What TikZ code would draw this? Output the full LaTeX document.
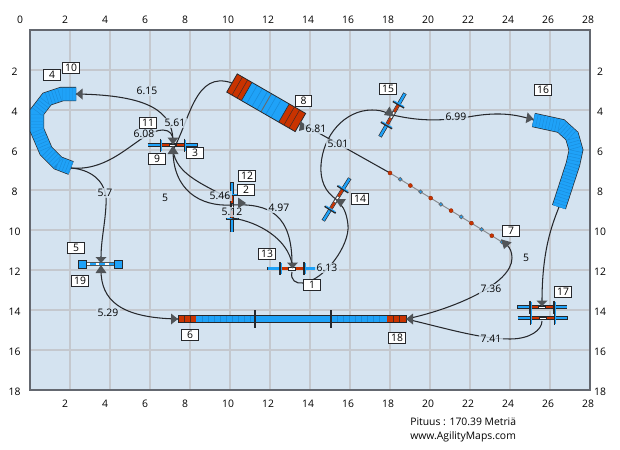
\documentclass[tikz,border=0pt]{standalone}
\usepackage{fontspec}
\setmainfont{Open Sans}
\definecolor{panel}{HTML}{D4E3F0}
\definecolor{gridc}{HTML}{C4C8CE}
\definecolor{framec}{HTML}{646870}
\definecolor{bluec}{HTML}{1FA2F8}
\definecolor{ribc}{HTML}{1A8CDA}
\definecolor{redc}{HTML}{C93300}
\definecolor{darkc}{HTML}{26282C}
\definecolor{headc}{HTML}{505458}
\tikzset{
  gridline/.style={gridc,line width=0.85pt},
  ruler/.style={font=\fontsize{5.9}{7}\selectfont,text=black,inner sep=0pt},
  numbox/.style={draw=darkc,fill=white,line width=0.55pt,minimum width=9.2pt,minimum height=5.9pt,inner sep=0pt,font=\fontsize{5.9}{7}\selectfont},
  lenlabel/.style={fill=panel,fill opacity=0.8,text opacity=1,inner xsep=1pt,inner ysep=0.6pt,font=\fontsize{5.9}{7}\selectfont},
  course/.style={darkc,line width=0.6pt},
  headtip/.style={fill=headc},
  tunnelbody/.style={line width=8.2pt,darkc,miter limit=10},
  tunnelfill/.style={line width=7.4pt,bluec,miter limit=10},
  tunnelrib/.style={line width=7.4pt,ribc,dash pattern=on 0.25pt off 1.6pt},
  barout/.style={line width=2.1pt,darkc},
  barblue/.style={line width=1.35pt,bluec},
  barred/.style={line width=1.35pt,redc},
  tickline/.style={line width=0.95pt,darkc},
  tickblue/.style={line width=0.55pt,bluec},
  polered/.style={circle,fill=redc,draw=redc!70!black,line width=0.2pt,minimum size=2.3pt,inner sep=0pt},
  poleblue/.style={circle,fill=bluec,draw=darkc!70,line width=0.4pt,minimum size=2.2pt,inner sep=0pt},
}
% jump: name, x, y, visual angle
\newcommand{\jumpbar}[4]{%
  \coordinate (#1) at (#2,#3);
  \begin{scope}[shift={(#2,#3)},rotate=#4]
    \draw[barout] (-25,0) -- (25,0);
    \draw[barblue] (-24.5,0) -- (24.5,0);
    \draw[barred] (-12,0) -- (12,0);
    \fill[white,draw=darkc,line width=0.2pt] (-3.5,-1.2) rectangle (3.5,1.2);
    \draw[tickline] (-12,-6.5) -- (-12,6.5);
    \draw[tickline] (12,-6.5) -- (12,6.5);
    \draw[tickblue] (-11,-5.5) -- (-11,5.5);
    \draw[tickblue] (13,-5.5) -- (13,5.5);
  \end{scope}}
% arrow head: tip x, y, visual direction, length
\newcommand{\headat}[4]{%
  \begin{scope}[shift={(#1,#2)},rotate=#3]
    \fill[headtip] (0,0) -- (-#4,5.5) -- (-#4,-5.5) -- cycle;
  \end{scope}}
\begin{document}
\begin{tikzpicture}[x=0.02cm,y=-0.02cm]
\useasboundingbox (0,0) rectangle (620,450);
\fill[white] (0,0) rectangle (620,450);
\fill[panel] (30,30) rectangle (590,390);
\foreach \k in {1,...,13} {\draw[gridline] ({30+40*\k},30) -- ({30+40*\k},390);}
\foreach \k in {1,...,8} {\draw[gridline] (30,{30+40*\k}) -- (590,{30+40*\k});}
\draw[framec,line width=1.1pt] (30,30) rectangle (590,390);
% rulers
\node[ruler] (tzero) at (20,20) {0};
\foreach \v/\px in {2/65,4/105,6/145,8/185,10/228,12/268,14/308,16/348,18/388,20/428,22/468,24/508,26/548,28/588} {
  \node[ruler] (top\v) at (\px,20) {\v};
  \node[ruler] (bot\v) at (\px,404) {\v};
}
\foreach \v/\py in {2/72,4/112,6/152,8/192,10/232,12/272,14/312,16/352,18/392} {
  \node[ruler] (lft\v) at (14.5,\py) {\v};
  \node[ruler] (rgt\v) at (600,\py) {\v};
}
% tunnel 4/10
\coordinate (tunA) at (76,94);
\coordinate (tunAend) at (71,168);
\foreach \s in {tunnelbody,tunnelfill,tunnelrib}
  \draw[\s] (tunA) -- (62,94) -- (47,99) -- (37,112) -- (37,130) -- (46,151) -- (58,163) -- (tunAend);
% tunnel 16
\coordinate (tunB) at (533.5,120);
\coordinate (tunBend) at (559,207);
\foreach \s in {tunnelbody,tunnelfill,tunnelrib}
  \draw[\s] (tunB) -- (561,126) -- (572,136) -- (576,150) -- (573,164) -- (tunBend);
% A-frame 8
\coordinate (frameA) at (232,83);
\coordinate (frameB) at (301,123);
\begin{scope}[shift={(232,83)},rotate=-30]
  \fill[redc] (0,-10.5) rectangle (17,10.5);
  \fill[redc] (60,-10.5) rectangle (79,10.5);
  \fill[bluec] (17,-10.5) rectangle (60,10.5);
  \foreach \q in {6,12,66,72} {\draw[darkc!80!redc,line width=0.3pt] (\q,-10.5) -- (\q,10.5);}
  \foreach \q in {23,29,35,45,51} {\draw[ribc,line width=0.35pt] (\q,-10.5) -- (\q,10.5);}
  \draw[darkc!70,line width=0.5pt] (39.5,-10.5) -- (39.5,10.5);
  \draw[darkc,line width=0.45pt] (0,-10.5) rectangle (79,10.5);
  \draw[darkc,line width=0.35pt] (17,-10.5) -- (17,10.5) (60,-10.5) -- (60,10.5);
\end{scope}
% dog walk 6/18
\coordinate (walkA) at (178,319);
\coordinate (walkB) at (406,319);
\fill[bluec] (196,315.4) rectangle (387,322.6);
\fill[redc] (178,315.4) rectangle (196,322.6);
\fill[redc] (387,315.4) rectangle (406,322.6);
\foreach \q in {202,208,214,220,226,232,238,244,250,337,343,349,355,361,367,373,379} {\draw[ribc,line width=0.3pt] (\q,315.4) -- (\q,322.6);}
\foreach \q in {184,190,393,399} {\draw[darkc!80!redc,line width=0.3pt] (\q,315.4) -- (\q,322.6);}
\draw[darkc,line width=0.4pt] (178,315.4) rectangle (406,322.6);
\draw[darkc,line width=1.5pt] (255,310) -- (255,328);
\draw[darkc,line width=1.5pt] (331,310) -- (331,328);
% tyre 5/19
\coordinate (tyre) at (101,264);
\draw[line width=2.6pt,headc] (80,264) -- (122,264);
\draw[line width=1.3pt,bluec] (84,264) -- (118,264);
\draw[line width=0.8pt,white,dash pattern=on 2pt off 3.5pt] (86,264) -- (116,264);
\fill[bluec,draw=darkc,line width=0.5pt] (78,260) rectangle (86,268);
\fill[bluec,draw=darkc,line width=0.5pt] (114,260) rectangle (122,268);
% jumps
\jumpbar{jthree}{172.5}{145}{0}
\jumpbar{jtwo}{232}{207}{90}
\jumpbar{jthirteen}{292}{268.5}{0}
\jumpbar{jfourteen}{336.5}{199.5}{58}
\jumpbar{jfifteen}{392.5}{115}{60}
\jumpbar{jseventeen}{542}{307}{0}
\jumpbar{jseventeenb}{542.5}{318}{0}
% course
\coordinate (cThreeTop) at (173,140);
\coordinate (cThreeLow) at (173,150);
\coordinate (cTwoUp) at (232,200);
\coordinate (cTwoIn) at (232,205);
\coordinate (cTwoLow) at (232,218);
\coordinate (cThirteen) at (292,264);
\draw[course] (292,272) .. controls (290,280) and (296,284) .. (303,283) .. controls (325,280) and (350,245) .. (348,225) .. controls (347,215) and (344,208) .. (341,205);
\draw[course] (jfourteen) .. controls (325,192) and (320,180) .. (321,165) .. controls (323,135) and (345,110) .. (372,110) .. controls (378,110) and (383,111) .. (387,113);
\draw[course] (jfifteen) .. controls (415,120) and (435,122) .. (468,117) .. controls (490,113) and (510,112) .. (tunB);
\draw[course] (tunBend) .. controls (552,225) and (542,250) .. (542,302);
\draw[course] (542,321) .. controls (542,330) and (530,339) .. (510,339) .. controls (480,339) and (445,328) .. (walkB);
\draw[course] (walkB) .. controls (450,310) and (512,285) .. (512,258) .. controls (512,252) and (510,248) .. (507,245);
\coordinate (weaveEnd) at (390,173);
\coordinate (weaveStart) at (502,242);
\draw[course] (weaveEnd) -- (frameB);
\draw[course] (frameA) .. controls (195,70) and (190,120) .. (cThreeLow);
\draw[course] (cThreeLow) .. controls (176,175) and (205,185) .. (cTwoUp);
\draw[course] (cThreeLow) .. controls (173,190) and (200,207) .. (cTwoIn);
\draw[course] (cTwoIn) .. controls (270,203) and (292,215) .. (cThirteen);
\draw[course] (cTwoLow) .. controls (260,222) and (288,240) .. (cThirteen);
\draw[course] (tunAend) .. controls (115,172) and (140,130) .. (163,130) .. controls (170,130) and (173,135) .. (cThreeTop);
\draw[course] (cThreeTop) .. controls (172,112) and (150,95) .. (tunA);
\draw[course] (tunAend) .. controls (95,170) and (108,185) .. (106,205) .. controls (105,225) and (101,240) .. (101,258);
\draw[course] (101,270) .. controls (101,300) and (120,318) .. (walkA);
% weave 7
\draw[gridc!70!black,line width=0.55pt] (weaveEnd) -- (weaveStart);
\foreach \i in {0,2,...,10} {\node[polered] (pole\i) at ({390+\i*10.18},{173+\i*6.27}) {};}
\foreach \i in {1,3,...,11} {\node[poleblue] (pole\i) at ({390+\i*10.18},{173+\i*6.27}) {};}
% arrow heads
\headat{173}{144.5}{270}{7}
\headat{173}{145.5}{90}{8.5}
\headat{292.5}{268.5}{270}{6}
\headat{101}{263}{270}{6}
\headat{101}{265}{90}{8}
\headat{178}{319}{0}{7}
\headat{406}{319}{180}{7}
\headat{76}{94}{180}{6.5}
\headat{299}{131}{229}{8.5}
\headat{504}{249}{254}{8.5}
\headat{384}{115}{204}{8.5}
\headat{340.5}{207}{270}{8}
\headat{533.5}{119}{350}{7}
\headat{542}{306}{270}{5.5}
\headat{246}{203}{0}{8}
% length labels
\node[lenlabel] (lA) at (147,91) {6.15};
\node[lenlabel] (lB) at (175,123) {5.61};
\node[lenlabel] (lC) at (144,134) {6.08};
\node[lenlabel] (lD) at (105,193) {5.7};
\node[lenlabel] (lE) at (165,198) {5};
\node[lenlabel] (lF) at (220,196) {5.46};
\node[lenlabel] (lG) at (232,212) {5.12};
\node[lenlabel] (lH) at (279,208) {4.97};
\node[lenlabel] (lI) at (327,268) {6.13};
\node[lenlabel] (lJ) at (316,129) {6.81};
\node[lenlabel] (lK) at (338,144) {5.01};
\node[lenlabel] (lL) at (456,117) {6.99};
\node[lenlabel] (lM) at (526,258) {5};
\node[lenlabel] (lN) at (491,289) {7.36};
\node[lenlabel] (lO) at (491,339) {7.41};
\node[lenlabel] (lP) at (108,313) {5.29};
% number boxes
\foreach \t/\a/\b in {4/52/75,10/71/68,11/148/123,3/195/153,9/157/159,12/247/176,2/246/190,8/303.5/101,15/388/89,16/543/90,14/360/199,13/267/254,1/312/285,5/76/248,19/80/281,6/190/335,18/397/338,7/511/231,17/563/292}
  \node[numbox] (n\t) at (\a,\b) {\t};
% footer
\node[ruler,anchor=west] (fA) at (410,422) {Pituus : 170.39 Metriä};
\node[ruler,anchor=west] (fB) at (410,437) {www.AgilityMaps.com};
\end{tikzpicture}
\end{document}
